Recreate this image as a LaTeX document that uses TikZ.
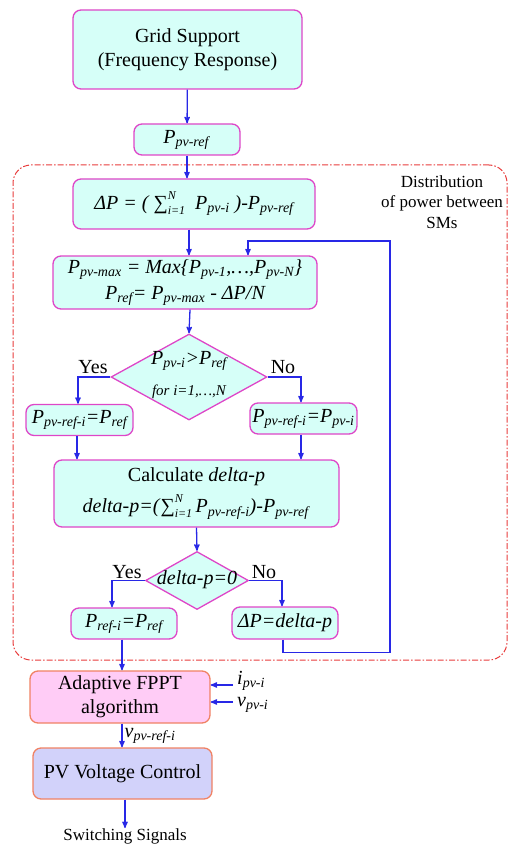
\documentclass[tikz,border=0pt]{standalone}
\usepackage{amsmath}
\usepackage{fontspec}
\setmainfont{Liberation Serif}[Ligatures=TeX]
\newfontfamily\tnr{Liberation Serif}
\usepackage{tikz}
\usetikzlibrary{arrows,shapes.geometric,positioning}
\definecolor{boxfill}{RGB}{214,255,248}
\definecolor{boxline}{RGB}{222,70,200}
\definecolor{flowblue}{RGB}{40,40,230}
\definecolor{algfill}{RGB}{255,204,246}
\definecolor{algline}{RGB}{240,130,100}
\definecolor{ctrlfill}{RGB}{210,210,250}
\definecolor{distred}{RGB}{232,60,60}
\newcommand{\Ps}[1]{\textit{P}\textsubscript{\textit{#1}}}
\newcommand{\sumN}{∑\rlap{\raisebox{10pt}{\fontsize{12}{12}\selectfont\itshape N}}\raisebox{-5pt}{\fontsize{12}{12}\selectfont\itshape i=1}}
\tikzset{
    %Define standard arrow tip
    >=stealth',
    %Define style for boxes
    block/.style={
           rectangle,
           rounded corners=8pt,
           draw=boxline, line width=1.3pt,
           fill=boxfill,
           inner sep=0pt,
           align=center,
           font=\tnr\fontsize{20}{24}\selectfont},
    decision/.style={
           diamond,
           draw=boxline, line width=1.3pt,
           fill=boxfill,
           inner sep=0pt},
    algblock/.style={
           block,
           draw=algline,
           fill=algfill},
    ctrlblock/.style={
           block,
           draw=algline,
           fill=ctrlfill},
    distframe/.style={
           rectangle,
           rounded corners=18pt,
           draw=distred, line width=1pt,
           dash pattern=on 6pt off 2pt on 1.5pt off 2pt},
    % Define arrow style
    flow/.style={
           ->,
           draw=flowblue,
           line width=1.3pt},
    txt/.style={
           inner sep=0pt,
           align=center,
           font=\tnr\fontsize{20}{24}\selectfont}
}
\begin{document}
\begin{tikzpicture}[x=1pt,y=-1pt]
\useasboundingbox (0,0) rectangle (509,845);

 %nodes
\node[distframe, minimum width=494pt, minimum height=495pt](dist) at (260,412.5){};
\node[txt, font=\tnr\fontsize{17}{20.5}\selectfont](disttxt) at (442,202){Distribution\\of power between\\SMs};

\node[block, minimum width=229pt, minimum height=79pt](grid) at (187.5,49.5){Grid Support\\(Frequency Response)};
\node[block, minimum width=106pt, minimum height=31pt](pref) at (187,139.5){\Ps{pv-ref}};
\node[block, minimum width=242pt, minimum height=50pt](dp) at (194,204){\itshape ΔP = ( \sumN\ \ \Ps{pv-i} )-\Ps{pv-ref}};
\node[block, minimum width=264pt, minimum height=53pt, font=\tnr\fontsize{20}{26}\selectfont\itshape](pmax) at (185,282.5){\Ps{pv-max} = Max\{\Ps{pv-1},…,\Ps{pv-N}\}\\\Ps{ref}= \Ps{pv-max} - ΔP/N};

\node[decision, minimum width=156pt, minimum height=86pt](dec1) at (189,377){};
\node[txt](dec1txt) at (189,375){\itshape\Ps{pv-i}>\Ps{ref}\\[7pt]{\fontsize{15}{17}\selectfont\itshape for i=1,…,N}};
\node[txt](yes1) at (93,367){Yes};
\node[txt](no1) at (283,367){No};

\node[block, minimum width=107pt, minimum height=31pt](lset1) at (79.5,420){\itshape\Ps{pv-ref-i}=\Ps{ref}};
\node[block, minimum width=107pt, minimum height=31pt](rset1) at (303.5,418.5){\itshape\Ps{pv-ref-i}=\Ps{pv-i}};

\node[block, minimum width=285pt, minimum height=67pt, font=\tnr\fontsize{20}{31}\selectfont](calc) at (196.5,493.5){Calculate \textit{delta-p}\\\textit{delta-p=(}\sumN\,\Ps{pv-ref-i}\textit{)-}\Ps{pv-ref}};

\node[decision, minimum width=103pt, minimum height=58pt](dec2) at (197,580.5){};
\node[txt](dec2txt) at (197,580){\itshape delta-p=0};
\node[txt](yes2) at (127,572){Yes};
\node[txt](no2) at (264,572){No};

\node[block, minimum width=106pt, minimum height=31pt](lset2) at (124,623.5){\itshape\Ps{ref-i}=\Ps{ref}};
\node[block, minimum width=106pt, minimum height=32pt](rset2) at (285,623){\itshape ΔP=delta-p};

\node[algblock, minimum width=180pt, minimum height=52pt](fppt) at (120,697){Adaptive FPPT\\algorithm};
\coordinate (ipv) at (233,685);
\coordinate (vpv) at (233,702);
\node[txt, anchor=west](ipvtxt) at (237,681){\textit{i}\textsubscript{\textit{pv-i}}};
\node[txt, anchor=west](vpvtxt) at (237,705){\textit{v}\textsubscript{\textit{pv-i}}};

\node[ctrlblock, minimum width=179pt, minimum height=51pt](pvc) at (122.5,773.5){PV Voltage Control};
\node[txt, font=\tnr\fontsize{17}{20}\selectfont](sig) at (125,836){Switching Signals};

 %connectors
\draw[flow] (grid) -- (pref);
\draw[flow] (pref.south) -- (pref.south |- dp.north);
\draw[flow] ([xshift=-5pt]dp.south) -- ([xshift=-5pt]dp.south |- pmax.north);
\draw[flow] ([xshift=5pt]pmax.south) -- (dec1.north);
\draw[flow] (dec1.west) -| ([xshift=-1.5pt]lset1.north);
\draw[flow] (dec1.east) -| ([xshift=-2.5pt]rset1.north);
\draw[flow] ([xshift=-2.5pt]lset1.south) -- ([xshift=-2.5pt]lset1.south |- calc.north);
\draw[flow] ([xshift=-2.5pt]rset1.south) -- ([xshift=-2.5pt]rset1.south |- calc.north);
\draw[flow] (calc.south) -- (dec2.north);
\draw[flow] (dec2.west) -| ([xshift=-12pt]lset2.north);
\draw[flow] (dec2.east) -| ([xshift=-3pt]rset2.north);
\draw[flow] ([xshift=-2pt]rset2.south) -- ++(0,13) -| (390,241) -| ([xshift=63pt]pmax.north);
\draw[flow] ([xshift=-2pt]lset2.south) -- ([xshift=-2pt]lset2.south |- fppt.north);
\draw[flow] (ipv) -- (ipv -| fppt.east);
\draw[flow] (vpv) -- (vpv -| fppt.east);
\draw[flow] ([xshift=2pt]fppt.south) -- node[txt, right=2pt]{\textit{v}\textsubscript{\textit{pv-ref-i}}} ([xshift=2pt]fppt.south |- pvc.north);
\draw[flow] ([xshift=2.5pt]pvc.south) -- ([xshift=2.5pt]pvc.south |- sig.north);

\end{tikzpicture}
\end{document}
